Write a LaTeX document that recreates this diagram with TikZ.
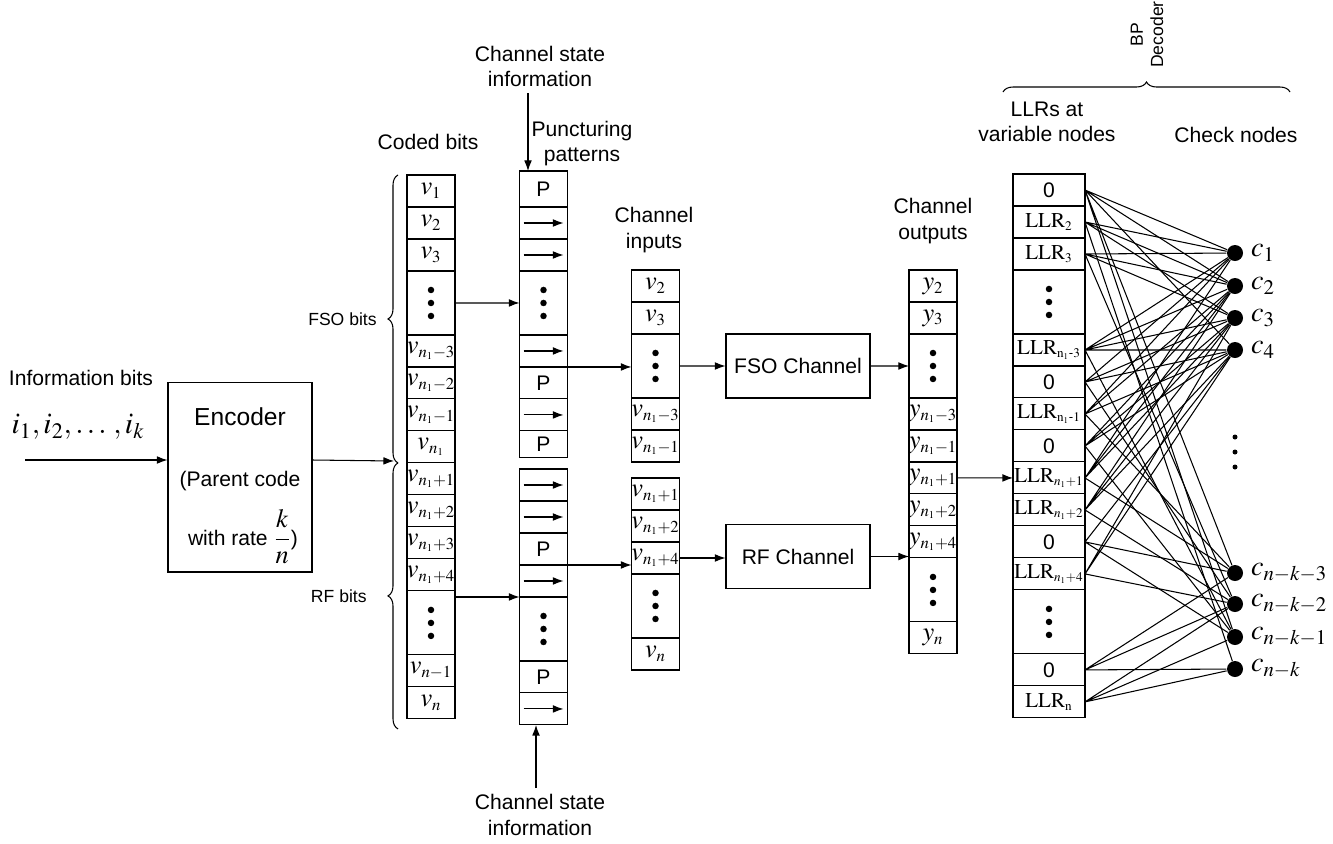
\documentclass[tikz,border=0pt]{standalone}
\usepackage{mathptmx}
\usepackage{amsmath}
\usepackage[no-math]{fontspec}
\setmainfont{Liberation Sans}
\usetikzlibrary{positioning, arrows.meta, decorations.pathreplacing}
\DeclareMathSizes{15}{15}{9.5}{6}
\DeclareMathSizes{12}{12}{7.5}{5}
\newcommand{\ctr}[1]{\makebox[0pt]{#1}}
\tikzstyle{every node}=[font=\fontsize{12}{14.4}\selectfont]
\tikzstyle{block}=[draw, rectangle, minimum width=2.88cm, minimum height=1.28cm]
\tikzstyle{cell}=[draw, rectangle, minimum width=0.96cm, minimum height=0.64cm, inner sep=0pt, outer sep=0pt, font=\fontsize{15}{17}\selectfont]
\tikzstyle{pcell}=[cell, font=\fontsize{12}{14}\selectfont]
\tikzstyle{lcell}=[cell, minimum width=1.44cm, font=\fontsize{12}{14}\selectfont]
\tikzstyle{arrcell}=[cell, path picture={\draw[->] ([xshift=-0.4cm]path picture bounding box.center) -- ([xshift=0.4cm]path picture bounding box.center);}]
\tikzstyle{dotcell}=[cell, minimum height=1.28cm, path picture={\fill ([yshift=0.26cm]path picture bounding box.center) circle (0.065cm) (path picture bounding box.center) circle (0.065cm) ([yshift=-0.26cm]path picture bounding box.center) circle (0.065cm);}]
\tikzstyle{kdots}=[minimum size=1cm, path picture={\fill ([yshift=0.3cm]path picture bounding box.center) circle (0.05cm) (path picture bounding box.center) circle (0.05cm) ([yshift=-0.3cm]path picture bounding box.center) circle (0.05cm);}]
\tikzstyle{chk}=[circle, fill, inner sep=0pt, minimum size=0.32cm]
\tikzstyle{clabel}=[font=\fontsize{16}{18}\selectfont, inner sep=1pt, label distance=3pt]
\tikzstyle{bracelbl}=[font=\fontsize{10}{11.5}\selectfont]

\begin{document}
\begin{tikzpicture}[x=0.02cm, y=0.02cm, >={Latex[length=6pt, width=4.4pt]}, line width=0.6pt]
    \useasboundingbox (0,0) rectangle (1333,-843);

    \node (infolbl) at (81,-378) {Information bits};
    \node[font=\fontsize{17}{20}\selectfont] (infobits) at (78,-427) {$i_1, i_2, \ldots\,, i_k$};
    \coordinate (inpt) at (25,-460);
    \node[block, minimum height=3.8cm] (enc) at (240,-477) {};
    \node[font=\fontsize{14}{16}\selectfont] (enctitle) at (240,-417) {Encoder};
    \node (encpar) at (240,-481) {(Parent code};
    \node (encrate) at (243,-537) {with rate {\fontsize{15}{17}\selectfont$\displaystyle\frac{k}{n}$})};
    \coordinate (bj) at (394,-461);
    \draw[->] (inpt) -- (inpt -| enc.west);
    \draw[->] (inpt -| enc.east) -- (bj);

    \node (codedlbl) at (428,-142) {Coded bits};
    \node[cell] (v1) at (431,-191) {$v_1$};
    \node[cell, below=0pt of v1] (v2) {$v_2$};
    \node[cell, below=0pt of v2] (v3) {$v_3$};
    \node[dotcell, below=0pt of v3] (vd1) {};
    \node[cell, below=0pt of vd1] (v4) {\ctr{$v_{n_1-3}$}};
    \node[cell, below=0pt of v4] (v5) {\ctr{$v_{n_1-2}$}};
    \node[cell, below=0pt of v5] (v6) {\ctr{$v_{n_1-1}$}};
    \node[cell, below=0pt of v6] (v7) {$v_{n_1}$};
    \node[cell, below=0pt of v7] (v8) {\ctr{$v_{n_1+1}$}};
    \node[cell, below=0pt of v8] (v9) {\ctr{$v_{n_1+2}$}};
    \node[cell, below=0pt of v9] (v10) {\ctr{$v_{n_1+3}$}};
    \node[cell, below=0pt of v10] (v11) {\ctr{$v_{n_1+4}$}};
    \node[dotcell, below=0pt of v11] (vd2) {};
    \node[cell, below=0pt of vd2] (v12) {\ctr{$v_{n-1}$}};
    \node[cell, below=0pt of v12] (v13) {$v_n$};
    \draw[decorate, decoration={brace, amplitude=0.2cm}] ([xshift=-0.18cm]v7.south west) -- node[bracelbl, left=0.3cm] (fsolbl) {FSO bits} ([xshift=-0.18cm]v1.north west);
    \draw[decorate, decoration={brace, amplitude=0.2cm}] ([xshift=-0.18cm, yshift=-0.2cm]v13.south west) -- node[bracelbl, left=0.5cm] (rflbl) {RF bits} ([xshift=-0.18cm]v8.north west);

    \node[align=center] (punclbl) at (582,-143.5) {Puncturing\\patterns};
    \node[align=center] (cstop) at (540,-66.5) {Channel state\\information};
    \node[pcell, minimum height=0.72cm] (p1) at (543.5,-189) {P};
    \node[arrcell, below=0pt of p1] (p2) {};
    \node[arrcell, below=0pt of p2] (p3) {};
    \node[dotcell, below=0pt of p3] (pd1) {};
    \node[arrcell, below=0pt of pd1] (p4) {};
    \node[pcell, below=0pt of p4] (p5) {P};
    \node[arrcell, below=0pt of p5] (p6) {};
    \node[pcell, minimum height=0.54cm, below=0pt of p6] (p7) {P};
    \node[arrcell] (q1) at (543.5,-485) {};
    \node[arrcell, below=0pt of q1] (q2) {};
    \node[pcell, below=0pt of q2] (q3) {P};
    \node[arrcell, below=0pt of q3] (q4) {};
    \node[dotcell, below=0pt of q4] (qd) {};
    \node[pcell, below=0pt of qd] (q5) {P};
    \node[arrcell, below=0pt of q5] (q6) {};
    \node[align=center] (csbot) at (540,-815) {Channel state\\information};
    \draw[->] ([xshift=-0.31cm]p1.north |- cstop.south) -- ([xshift=-0.31cm]p1.north);
    \draw[->] ([xshift=-0.15cm]q6.south |- csbot.north) -- ([xshift=-0.15cm]q6.south);
    \draw[->] (vd1) -- (pd1);
    \draw[->] (vd2.east |- q4.south) -- (q4.south west);

    \node[align=center] (inlbl) at (654,-230) {Channel\\inputs};
    \node[cell] (a1) at (655.5,-286) {$v_2$};
    \node[cell, below=0pt of a1] (a2) {$v_3$};
    \node[dotcell, below=0pt of a2] (ad) {};
    \node[cell, below=0pt of ad] (a3) {\ctr{$v_{n_1-3}$}};
    \node[cell, below=0pt of a3] (a4) {\ctr{$v_{n_1-1}$}};
    \node[cell] (b1) at (655.5,-494) {\ctr{$v_{n_1+1}$}};
    \node[cell, below=0pt of b1] (b2) {\ctr{$v_{n_1+2}$}};
    \node[cell, below=0pt of b2] (b3) {\ctr{$v_{n_1+4}$}};
    \node[dotcell, below=0pt of b3] (bd) {};
    \node[cell, below=0pt of bd] (b4) {$v_n$};
    \draw[->] (p4.south east) -- (p4.south east -| ad.west);
    \draw[->] (q3.south east) -- (q3.south east -| b3.west);

    \node[block] (fso) at (798,-366) {FSO Channel};
    \node[block] (rf) at (798,-556.5) {RF Channel};
    \draw[->] (ad) -- (fso);
    \draw[->] (b3) -- (b3 -| rf.west);

    \node[align=center] (outlbl) at (933,-221) {Channel\\outputs};
    \node[cell] (o1) at (933,-286) {$y_2$};
    \node[cell, below=0pt of o1] (o2) {$y_3$};
    \node[dotcell, below=0pt of o2] (od1) {};
    \node[cell, below=0pt of od1] (o3) {\ctr{$y_{n_1-3}$}};
    \node[cell, below=0pt of o3] (o4) {\ctr{$y_{n_1-1}$}};
    \node[cell, below=0pt of o4] (o5) {\ctr{$y_{n_1+1}$}};
    \node[cell, below=0pt of o5] (o6) {\ctr{$y_{n_1+2}$}};
    \node[cell, below=0pt of o6] (o7) {\ctr{$y_{n_1+4}$}};
    \node[dotcell, below=0pt of o7] (od2) {};
    \node[cell, below=0pt of od2] (o8) {$y_n$};
    \draw[->] (fso) -- (od1);
    \draw[->] (rf.east) -- (rf.east -| od2.west);

    \node[align=center] (llrlbl) at (1047,-122) {LLRs at\\variable nodes};
    \node (chklbl) at (1236,-135) {Check nodes};
    \draw[decorate, decoration={brace, amplitude=0.2cm}] (1003,-92) -- (1290,-92);
    \node[bracelbl, rotate=90, anchor=west, align=center, inner sep=1pt] (bplbl) at (1147,-70) {BP\\Decoder};
    \node[lcell] (l1) at (1049,-190) {0};
    \node[lcell, below=0pt of l1] (l2) {$\mathrm{LLR}_2$};
    \node[lcell, below=0pt of l2] (l3) {$\mathrm{LLR}_3$};
    \node[dotcell, minimum width=1.44cm, below=0pt of l3] (ld1) {};
    \node[lcell, below=0pt of ld1] (l4) {\ctr{$\mathrm{LLR}_{\mathrm{n}_1\text{-}3}$}};
    \node[lcell, below=0pt of l4] (l5) {0};
    \node[lcell, below=0pt of l5] (l6) {\ctr{$\mathrm{LLR}_{\mathrm{n}_1\text{-}1}$}};
    \node[lcell, below=0pt of l6] (l7) {0};
    \node[lcell, below=0pt of l7] (l8) {\ctr{$\mathrm{LLR}_{n_1+1}$}};
    \node[lcell, below=0pt of l8] (l9) {\ctr{$\mathrm{LLR}_{n_1+2}$}};
    \node[lcell, below=0pt of l9] (l10) {0};
    \node[lcell, below=0pt of l10] (l11) {\ctr{$\mathrm{LLR}_{n_1+4}$}};
    \node[dotcell, minimum width=1.44cm, below=0pt of l11] (ld2) {};
    \node[lcell, below=0pt of ld2] (l12) {0};
    \node[lcell, below=0pt of l12] (l13) {$\mathrm{LLR}_\mathrm{n}$};
    \draw[->] (o5) -- (l8);

    \node[chk, label={[clabel]right:$c_1$}] (k1) at (1235,-253) {};
    \node[chk, label={[clabel]right:$c_2$}] (k2) at (1235,-286) {};
    \node[chk, label={[clabel]right:$c_3$}] (k3) at (1235,-318) {};
    \node[chk, label={[clabel]right:$c_4$}] (k4) at (1235,-350) {};
    \node[kdots] (kd) at (1235,-452) {};
    \node[chk, label={[clabel]right:$c_{n-k-3}$}] (k5) at (1235,-573) {};
    \node[chk, label={[clabel]right:$c_{n-k-2}$}] (k6) at (1235,-604) {};
    \node[chk, label={[clabel]right:$c_{n-k-1}$}] (k7) at (1235,-637) {};
    \node[chk, label={[clabel]right:$c_{n-k}$}] (k8) at (1235,-669) {};

    \draw (l1.east) -- (k1) (l1.east) -- (k2) (l1.east) -- (k4) (l1.east) -- (k5) (l1.east) -- (k7);
    \draw (l2.east) -- (k1) (l2.east) -- (k2) (l2.east) -- (k3) (l2.east) -- (k8);
    \draw (l3.east) -- (k1) (l3.east) -- (k2) (l3.east) -- (k3) (l3.east) -- (k6);
    \draw (l4.east) -- (k1) (l4.east) -- (k2) (l4.east) -- (k3) (l4.east) -- (k4) (l4.east) -- (k7);
    \draw (l5.east) -- (k1) (l5.east) -- (k3) (l5.east) -- (k4) (l5.east) -- (k6);
    \draw (l6.east) -- (k1) (l6.east) -- (k2) (l6.east) -- (k4) (l6.east) -- (k5);
    \draw (l7.east) -- (k2) (l7.east) -- (k3) (l7.east) -- (k4) (l7.east) -- (k7);
    \draw (l8.east) -- (k1) (l8.east) -- (k2) (l8.east) -- (k3) (l8.east) -- (k5);
    \draw (l9.east) -- (k2) (l9.east) -- (k3) (l9.east) -- (k4) (l9.east) -- (k6);
    \draw (l10.east) -- (k4) (l10.east) -- (k5) (l10.east) -- (k7);
    \draw (l11.east) -- (k3) (l11.east) -- (k4) (l11.east) -- (k6);
    \draw (l12.east) -- (k5) (l12.east) -- (k6) (l12.east) -- (k8);
    \draw (l13.east) -- (k6) (l13.east) -- (k7) (l13.east) -- (k8);
\end{tikzpicture}
\end{document}
